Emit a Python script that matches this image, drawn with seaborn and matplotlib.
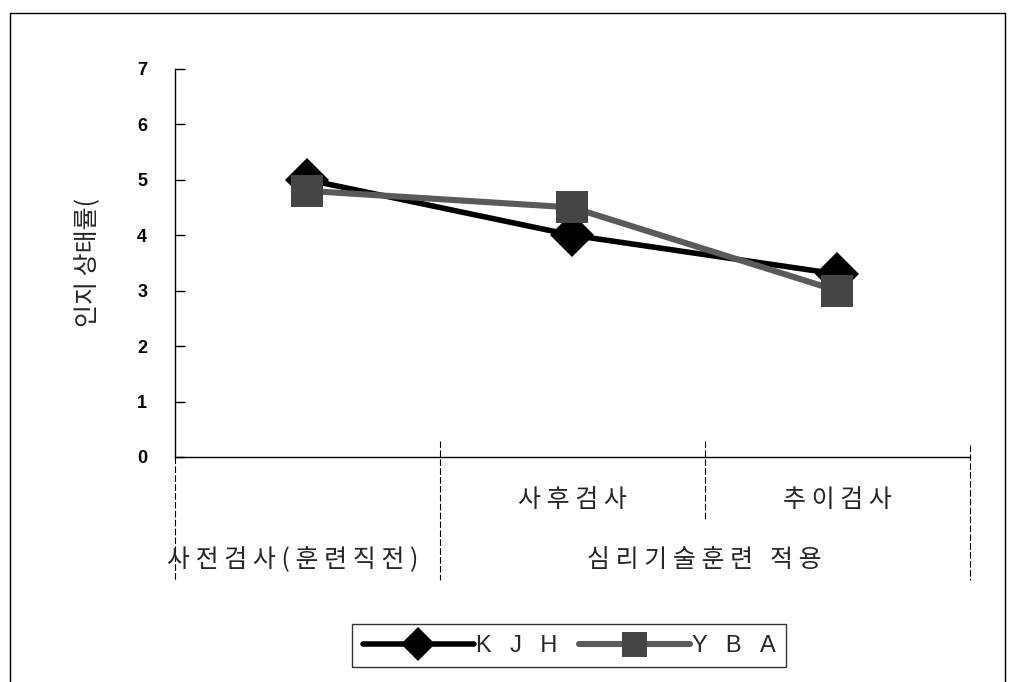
import matplotlib
matplotlib.use("Agg")
import matplotlib.pyplot as plt
import matplotlib.patches as mpatches
import matplotlib.transforms as mtransforms
import pandas as pd
import seaborn as sns

# Test stages (x categories) and scores per subject
stages = ["사전검사", "사후검사", "추이검사"]
kjh_scores = [5.0, 4.0, 3.3]
yba_scores = [4.8, 4.5, 3.0]
subjects = ["K J H", "Y B A"]

# Two-row category table under the x axis
row1_labels = ["", "사후검사", "추이검사"]
row2_left = "사전검사(훈련직전)"
row2_right = "심리기술훈련 적용"
y_label = "인지 상태률("
y_ticks = [0, 1, 2, 3, 4, 5, 6, 7]

sns.set_theme(style="white")
plt.rcParams["font.family"] = ["Liberation Sans", "Noto Sans CJK KR", "DejaVu Sans"]

KR = ["Noto Sans CJK KR", "DejaVu Sans"]


def spaced(s):
    return " ".join(s)


def wide(s):
    return s.replace(" ", " \u2002")


df = pd.DataFrame({
    "stage": stages * 2,
    "score": kjh_scores + yba_scores,
    "subject": [subjects[0]] * 3 + [subjects[1]] * 3,
})

fig = plt.figure(figsize=(10.11, 6.82), dpi=100)
ax = fig.add_axes([0.173, 0.330, 0.786, 0.569])

sns.lineplot(
    data=df, x="stage", y="score", hue="subject", style="subject",
    markers={subjects[0]: "D", subjects[1]: "s"}, dashes=False,
    palette={subjects[0]: "#000000", subjects[1]: "#5a5a5a"},
    sort=False, ax=ax, legend=False,
)
lines = ax.get_lines()
lines[0].set(linewidth=4.0, markersize=22, markeredgewidth=0, zorder=3)
lines[1].set(linewidth=4.4, markersize=23, markeredgewidth=0, zorder=4,
             markerfacecolor="#454545")

ax.set_xlim(-0.5, 2.5)
ax.set_ylim(0, 7)
ax.set_yticks(y_ticks)
ax.set_yticklabels([str(t) for t in y_ticks], fontsize=13, fontweight="bold")
ax.set_xticks([])
ax.set_xlabel("")
ax.set_ylabel(y_label, fontsize=18, family=KR, labelpad=26)
ax.tick_params(axis="y", direction="in", length=7, width=1, color="black",
               left=True, pad=20, labelcolor="black")
for side in ("top", "right"):
    ax.spines[side].set_visible(False)
for side in ("left", "bottom"):
    ax.spines[side].set_color("black")
    ax.spines[side].set_linewidth(1.0)

# Category table separators below the axis
trans = mtransforms.blended_transform_factory(ax.transData, ax.transAxes)
sep_specs = [(-0.5, 0.0, -0.317), (0.5, 0.04, -0.317), (1.5, 0.04, -0.165), (2.5, 0.03, -0.317)]
for xpos, top, bottom in sep_specs:
    ax.plot([xpos, xpos], [top, bottom], transform=trans, color="black",
            linewidth=0.8, linestyle=(0, (6, 2)), clip_on=False)

for i, lab in enumerate(row1_labels):
    if lab:
        ax.text(i, -0.112, spaced(lab), transform=trans, ha="center",
                va="center", fontsize=18, family=KR)
ax.text(-0.53, -0.265, spaced(row2_left), transform=trans, ha="left",
        va="center", fontsize=18, family=KR)
ax.text(1.5, -0.265, spaced(row2_right), transform=trans, ha="center",
        va="center", fontsize=18, family=KR)

# Legend
handles = [
    plt.Line2D([], [], color="#000000", linewidth=4.0, marker="D",
               markersize=17, markeredgewidth=0),
    plt.Line2D([], [], color="#5a5a5a", linewidth=4.4, marker="s",
               markersize=18, markeredgewidth=0, markerfacecolor="#454545"),
]
leg = fig.legend(handles, [wide(s) for s in subjects], loc="center",
                 bbox_to_anchor=(0.563, 0.053),
                 ncol=2, fontsize=17, handlelength=4.7, handletextpad=0.1,
                 columnspacing=0.9, frameon=True, fancybox=False,
                 borderpad=0.45, edgecolor="black")
leg.get_frame().set_linewidth(1.0)

# Outer frame around the figure
frame = mpatches.Rectangle((10 / 1011, -0.05), 995 / 1011, 1.05 - 13 / 682,
                           transform=fig.transFigure, fill=False,
                           edgecolor="black", linewidth=1.0)
fig.patches.append(frame)

fig.savefig("out.png", dpi=100)
